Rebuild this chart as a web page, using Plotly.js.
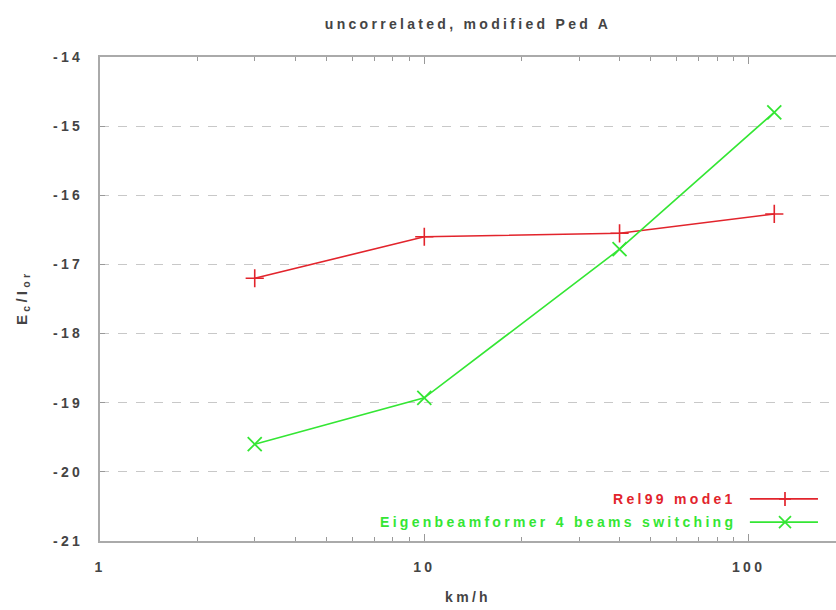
<!DOCTYPE html>
<html><head><meta charset="utf-8">
<script src="https://cdn.plot.ly/plotly-3.0.1.min.js"></script>
<style>html,body{margin:0;padding:0;background:#fff} text{letter-spacing:3.3px}</style>
</head><body><div id="chart" style="width:836px;height:610px"></div>
<script>
const speeds = [3, 10, 40, 120];
const rel99 = [-17.2, -16.6, -16.55, -16.27];
const eigen = [-19.6, -18.93, -16.78, -14.8];
const seriesNames = ["Rel99 mode1", "Eigenbeamformer 4 beams switching"];
const xTickVals = [1, 10, 100];
const yTickVals = [-21, -20, -19, -18, -17, -16, -15, -14];
const yTickText = yTickVals.map(v => String(v).replace("\u2212", "-"));

const RED = "rgb(226,36,44)", GREEN = "rgb(52,230,52)";
const FAM = "Liberation Sans, Arial, sans-serif";
const TXT = "#444";
const font = {family: FAM, size: 14, color: TXT, weight: "bold"};
const xRange = [0, Math.log10(186)];

const traces = [
  {x: speeds, y: rel99, name: seriesNames[0], mode: "lines+markers", type: "scatter",
   line: {color: RED, width: 1.6}, marker: {symbol: "cross-thin", size: 13, line: {color: RED, width: 1.6}}},
  {x: speeds, y: eigen, name: seriesNames[1], mode: "lines+markers", type: "scatter",
   line: {color: GREEN, width: 1.6}, marker: {symbol: "x-thin", size: 14, line: {color: GREEN, width: 1.8}}},
  {x: speeds, y: eigen, xaxis: "x2", mode: "lines", type: "scatter", opacity: 0, hoverinfo: "skip", showlegend: false}
];

const legendY = [0.087, 0.039];
const legendColors = [RED, GREEN];
const shapes = [], annotations = [];
legendY.forEach((yy, i) => {
  shapes.push({type: "line", xref: "paper", yref: "paper", x0: 0.883, x1: 0.9755, y0: yy, y1: yy,
               line: {color: legendColors[i], width: 1.6}});
  const mk = i === 0
    ? [[-6, 0, 6, 0], [0, -7, 0, 7]]
    : [[-6, -6, 6, 6], [-6, 6, 6, -6]];
  mk.forEach(s => shapes.push({type: "line", xref: "paper", yref: "paper", xsizemode: "pixel", ysizemode: "pixel",
    xanchor: 0.9307, yanchor: yy, x0: s[0], y0: s[1], x1: s[2], y1: s[3],
    line: {color: legendColors[i], width: 1.7}}));
  annotations.push({xref: "paper", yref: "paper", x: 0.8628, xshift: 3, y: yy, xanchor: "right", yanchor: "middle",
    text: seriesNames[i], showarrow: false, font: {family: FAM, size: 14, weight: "bold", color: legendColors[i]}});
});
annotations.push({xref: "paper", yref: "paper", x: -0.106, y: 0.504, xanchor: "center", yanchor: "middle",
  textangle: -90, showarrow: false, text: "E<sub>c</sub>/I<sub>or</sub>", font: {family: FAM, size: 15, weight: "bold", color: TXT}});

const axisCommon = {type: "log", range: xRange, showgrid: false, zeroline: false,
  showline: true, linecolor: "#aaa", linewidth: 2, ticks: "inside", ticklen: 7, tickcolor: "#999",
  minor: {ticks: "inside", ticklen: 4, tickcolor: "#999", dtick: "D1", showgrid: false}};

const layout = {
  width: 836, height: 610,
  margin: {l: 100, r: 0, t: 57, b: 69},
  paper_bgcolor: "#fff", plot_bgcolor: "#fff",
  font: font,
  showlegend: false,
  title: {text: "uncorrelated, modified Ped A", x: 0.5, xref: "paper", y: 0.9607, yref: "container", yanchor: "middle",
          font: {family: FAM, size: 14, weight: "bold", color: TXT}},
  xaxis: Object.assign({}, axisCommon, {
          tickvals: xTickVals, ticktext: xTickVals.map(String), ticklabelstandoff: 12,
          title: {text: "km/h", font: {family: FAM, size: 14, weight: "bold", color: TXT}, standoff: 18},
          tickfont: {family: FAM, size: 14, weight: "bold", color: TXT}}),
  xaxis2: Object.assign({}, axisCommon, {overlaying: "x", side: "top", anchor: "y",
          tickvals: xTickVals, showticklabels: false}),
  yaxis: {range: [-21, -14], tickvals: yTickVals, ticktext: yTickText, ticks: "inside", ticklen: 5, tickcolor: "#999",
          ticklabelstandoff: 12,
          showline: true, linecolor: "#aaa", linewidth: 2, zeroline: false,
          showgrid: true, gridcolor: "#c8c8c8", griddash: "dash", gridwidth: 1,
          tickfont: {family: FAM, size: 14, weight: "bold", color: TXT}},
  shapes: shapes,
  annotations: annotations
};
Plotly.newPlot("chart", traces, layout, {displayModeBar: false, staticPlot: true});
</script></body></html>
